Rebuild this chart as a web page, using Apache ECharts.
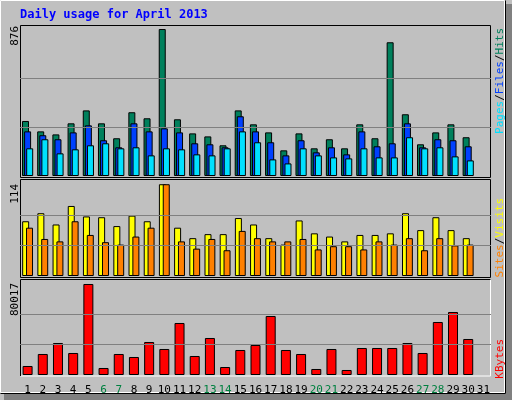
<!DOCTYPE html>
<html><head><meta charset="utf-8">
<script src="https://cdn.jsdelivr.net/npm/echarts@6/dist/echarts.min.js"></script>
<style>html,body{margin:0;padding:0;background:#c0c0c0}#c{width:512px;height:400px}</style>
</head><body><div id="c"></div>
<script>
const days = ['1','2','3','4','5','6','7','8','9','10','11','12','13','14','15','16','17','18','19','20','21','22','23','24','25','26','27','28','29','30','31'];
const weekend = ['6','7','13','14','20','21','27','28'];
const hits  = [328,266,248,314,391,314,225,380,344,876,338,254,236,183,391,308,260,153,254,165,219,165,308,225,797,368,189,260,308,231,null];
const files = [266,243,219,260,302,213,171,314,266,284,260,195,189,171,356,266,201,123,213,141,171,129,266,177,195,314,171,219,213,177,null];
const pages = [165,219,135,159,183,195,165,171,123,165,159,129,123,165,266,201,99,75,165,123,111,105,165,111,111,231,165,171,117,93,null];
const visits= [68,78,64,87,74,73,62,75,68,114,60,47,52,52,72,64,47,39,69,53,49,43,51,51,53,78,57,73,57,47,null];
const sites = [60,46,43,68,51,42,39,49,60,114,43,34,46,32,56,47,43,43,46,33,37,37,33,43,39,47,32,47,38,39,null];
const kbytes= [7914,18465,28138,19345,80017,6155,18465,15827,29017,22862,45724,16707,32534,7034,21983,26379,51879,21983,18465,5276,22862,4397,23741,23741,23741,28138,19345,46603,55396,31655,null];
const maxLabels = ['876','114','80017'];

const ch = echarts.init(document.getElementById('c'));
const L=20, W=471;
const grids=[{left:L,width:W,top:25,height:151},{left:L,width:W,top:181,height:95},{left:L,width:W,top:281,height:94}];
const bs = {borderColor:'#000',borderWidth:1};
function grid(v){return {type:'markLine',silent:true,symbol:'none',label:{show:false},lineStyle:{color:'#808080',type:'solid',width:1},data:v.map(y=>({yAxis:y}))};}
function xa(i,show){return {type:'category',gridIndex:i,data:days,axisLine:{show:false},axisTick:{show:false},
  axisLabel:{show:show,interval:0,fontFamily:'DejaVu Sans Mono',fontSize:11,margin:10,color:(v)=>weekend.includes(v)?'#008040':'#000'}};}
function ya(i,max){return {type:'value',gridIndex:i,min:0,max:max,axisLine:{show:false},axisTick:{show:false},axisLabel:{show:false},splitLine:{show:false}};}
function ml(y){return {markLine:{silent:true,symbol:'none',label:{show:false},animation:false,lineStyle:{color:'#808080',type:'solid',width:1},data:y.map(v=>({yAxis:v}))}};}
const vt=(x,y,rich,text)=>({type:'text',x:x,y:y,rotation:Math.PI/2,style:{text:text,rich:rich,font:'11px "DejaVu Sans Mono"',align:'right',verticalAlign:'middle'}});
ch.setOption({
  animation:false,
  backgroundColor:'#c0c0c0',
  grid:grids,
  xAxis:[xa(0,false),xa(1,false),xa(2,true)],
  yAxis:[ya(0,900),ya(1,118),ya(2,82650)],
  series:[
    Object.assign({type:'bar',name:'Hits',xAxisIndex:0,yAxisIndex:0,data:hits,barWidth:7,barGap:'-70%',itemStyle:Object.assign({color:'#00805c'},bs)},ml([292,584])),
    {type:'bar',name:'Files',xAxisIndex:0,yAxisIndex:0,data:files,barWidth:7,barGap:'-70%',itemStyle:Object.assign({color:'#0040ff'},bs)},
    {type:'bar',name:'Pages',xAxisIndex:0,yAxisIndex:0,data:pages,barWidth:7,barGap:'-70%',itemStyle:Object.assign({color:'#00e0ff'},bs)},
    Object.assign({type:'bar',name:'Visits',xAxisIndex:1,yAxisIndex:1,data:visits,barWidth:7,barGap:'-45%',itemStyle:Object.assign({color:'#ffff00'},bs)},ml([38,76])),
    {type:'bar',name:'Sites',xAxisIndex:1,yAxisIndex:1,data:sites,barWidth:7,barGap:'-45%',itemStyle:Object.assign({color:'#ff8000'},bs)},
    Object.assign({type:'bar',name:'KBytes',xAxisIndex:2,yAxisIndex:2,data:kbytes,barWidth:10,itemStyle:Object.assign({color:'#ff0000'},bs)},ml([26672,53345]))
  ],
  graphic:[
    {type:'rect',shape:{x:0.5,y:0.5,width:504,height:392},style:{fill:null,stroke:'#fff',lineWidth:1},z:-1},
    {type:'rect',shape:{x:506,y:4,width:6,height:396},style:{fill:'#808080'},z:-1},
    {type:'rect',shape:{x:4,y:394,width:508,height:6},style:{fill:'#808080'},z:-1},
    {type:'polyline',shape:{points:[[0.5,393.5],[505.5,393.5],[505.5,0.5]]},style:{stroke:'#000',fill:null,lineWidth:1}},
    {type:'rect',shape:{x:20.5,y:25.5,width:470,height:152},style:{fill:null,stroke:'#000',lineWidth:1},z:1},
    {type:'rect',shape:{x:20.5,y:179.5,width:470,height:98},style:{fill:null,stroke:'#000',lineWidth:1},z:1},
    {type:'rect',shape:{x:20.5,y:279.5,width:470,height:96.5},style:{fill:null,stroke:'#fff',lineWidth:1},z:1},
    {type:'polyline',shape:{points:[[20.5,376],[20.5,279.5],[490.5,279.5]]},style:{stroke:'#000',fill:null,lineWidth:1},z:2},
    {type:'text',x:20,y:9,style:{text:'Daily usage for April 2013',font:'bold 12px "DejaVu Sans Mono"',fill:'#0000ff'}},
    vt(15,26,{},maxLabels[0]),
    vt(15,184,{},maxLabels[1]),
    vt(15,283,{},maxLabels[2]),
    {type:'text',x:500,y:28,rotation:Math.PI/2,style:{text:'{p|Pages}{s|/}{f|Files}{s|/}{h|Hits}',font:'11px "DejaVu Sans Mono"',align:'right',verticalAlign:'middle',
      rich:{p:{fill:'#00e0ff'},f:{fill:'#0040ff'},h:{fill:'#00805c'},s:{fill:'#000'}}}},
    {type:'text',x:500,y:198,rotation:Math.PI/2,style:{text:'{a|Sites}{s|/}{b|Visits}',font:'11px "DejaVu Sans Mono"',align:'right',verticalAlign:'middle',
      rich:{a:{fill:'#ff8000'},b:{fill:'#ffff00'},s:{fill:'#000'}}}},
    {type:'text',x:500,y:339,rotation:Math.PI/2,style:{text:'KBytes',font:'11px "DejaVu Sans Mono"',fill:'#ff0000',align:'right',verticalAlign:'middle'}}
  ]
});
</script></body></html>
